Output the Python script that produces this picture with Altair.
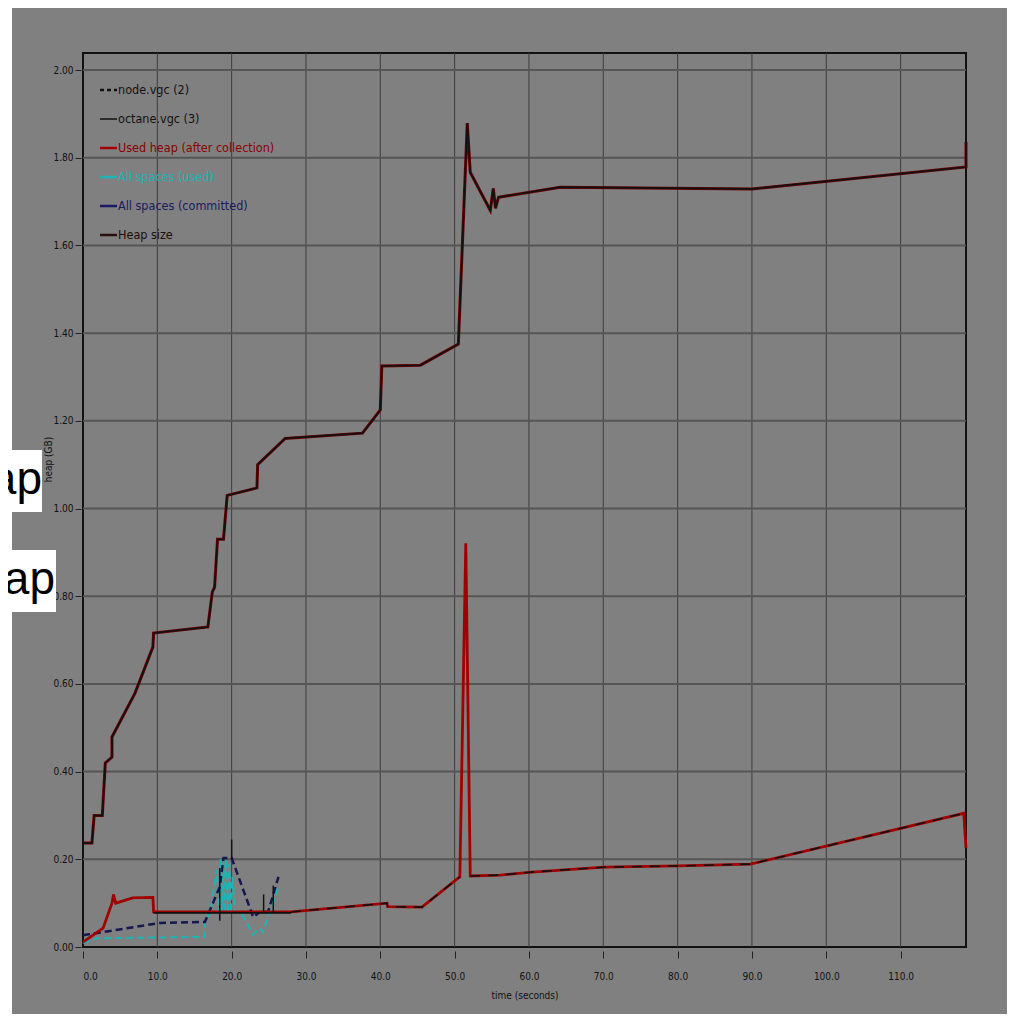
import altair as alt
import pandas as pd

# ---------------- data ----------------
# octane.vgc (3) - Heap size (upper staircase)
heap_t = [0, 1.2, 1.5, 2.6, 3.0, 3.9, 3.9, 7.0, 9.4, 9.5, 16.8, 17.4, 17.7, 18.1, 18.9, 19.4,
          23.4, 23.5, 27.2, 37.6, 40.0, 40.2, 45.4, 50.5, 51.7, 52.1, 54.8, 55.2, 55.5, 55.9,
          64.2, 90.0, 118.8, 118.8]
heap_v = [0.237, 0.237, 0.30, 0.30, 0.42, 0.433, 0.479, 0.579, 0.684, 0.716, 0.730, 0.81, 0.82,
          0.93, 0.93, 1.03, 1.047, 1.10, 1.16, 1.172, 1.225, 1.325, 1.327, 1.375, 1.879, 1.767,
          1.68, 1.73, 1.685, 1.71, 1.733, 1.729, 1.779, 1.836]

# octane.vgc (3) - Used heap (after collection)
used_t = [0, 2.7, 3.9, 4.1, 4.4, 6.7, 9.4, 9.5, 28.0, 40.9, 41.0, 45.6, 50.7, 51.5, 52.1,
          56.1, 60.4, 70.1, 80.0, 89.8, 118.5, 118.8]
used_v = [0.011, 0.043, 0.10, 0.12, 0.10, 0.112, 0.113, 0.080, 0.080, 0.100, 0.092, 0.091,
          0.16, 0.921, 0.162, 0.164, 0.171, 0.182, 0.185, 0.189, 0.305, 0.226]

# black core drawn over the used-heap line
core_t = [9.5, 28.0]
core_v = [0.078, 0.078]
core2_t = [28.0, 40.9, 41.0, 45.6, 50.7]
core2_v = [0.080, 0.100, 0.092, 0.091, 0.16]
core3_t = [52.1, 56.1, 60.4, 70.1, 80.0, 89.8, 118.5]
core3_v = [0.162, 0.164, 0.171, 0.182, 0.185, 0.189, 0.305]

# node.vgc (2) - All spaces (committed)
comm_t = [0, 2.7, 10.4, 16.4, 18.4, 18.9, 20.0, 22.9, 23.8, 24.9, 26.3]
comm_v = [0.027, 0.034, 0.055, 0.057, 0.137, 0.203, 0.203, 0.068, 0.080, 0.080, 0.160]

# node.vgc (2) - All spaces (used)
sp_t = [0, 1.9, 16.4, 16.4, 17.1, 18.0, 18.3, 18.5, 18.7, 18.9, 19.1, 19.3, 19.5, 19.7, 19.9,
        20.1, 20.5, 21.3, 22.9, 23.8, 24.2, 24.6, 26.3]
sp_v = [0.009, 0.020, 0.023, 0.057, 0.078, 0.176, 0.080, 0.200, 0.075, 0.200, 0.078, 0.200,
        0.075, 0.190, 0.078, 0.160, 0.078, 0.078, 0.028, 0.043, 0.034, 0.055, 0.137]

# short solid spikes
spk_t = [18.4, 20.0, 24.3, 25.6]
spk_lo = [0.06, 0.20, 0.08, 0.08]
spk_hi = [0.18, 0.245, 0.12, 0.14]

x_ticks = [0, 10, 20, 30, 40, 50, 60, 70, 80, 90, 100, 110]
y_ticks = [0.0, 0.2, 0.4, 0.6, 0.8, 1.0, 1.2, 1.4, 1.6, 1.8, 2.0]

legend_labels = ["node.vgc (2)", "octane.vgc (3)", "Used heap (after collection)",
                 "All spaces (used)", "All spaces (committed)", "Heap size"]
legend_text_colors = ["#111111", "#111111", "#8b0000", "#1cb4b4", "#1a1a5e", "#1a0d0d"]
legend_line_colors = ["#111111", "#111111", "#a00000", "#1cb4b4", "#1a1a66", "#2b0f0f"]

FONT = "DejaVu Sans Condensed"

# ---------------- chart ----------------
def frame(t, v):
    return pd.DataFrame({"t": t, "v": v, "i": list(range(len(t)))})

xaxis = alt.Axis(values=x_ticks, format=".1f", grid=False, domain=False, tickSize=7, offset=4,
                 tickColor="#222", labelPadding=13, labelFont=FONT, labelFontSize=10,
                 labelColor="#111", title="time (seconds)", titleFont=FONT, titleFontSize=10,
                 titleFontWeight="normal", titleColor="#111", titleY=44, titleBaseline="middle")
yaxis = alt.Axis(values=y_ticks, format=".2f", grid=False, domain=False, tickSize=6, offset=2,
                 tickColor="#222", labelPadding=2, labelFont=FONT, labelFontSize=10,
                 labelColor="#111", title="heap (GB)", titleFont=FONT, titleFontSize=10,
                 titleFontWeight="normal", titleColor="#111", titleAngle=-90, titleX=-33,
                 titleY=406, titleBaseline="middle", titleAlign="center")

X = alt.X("t:Q", scale=alt.Scale(domain=[0, 118.8], nice=False, zero=False), axis=xaxis)
Y = alt.Y("v:Q", scale=alt.Scale(domain=[0, 2.039], nice=False), axis=yaxis)

vgrid = alt.Chart(pd.DataFrame({"t": x_ticks[1:]})).mark_rule(
    color="#3c3c3c", strokeWidth=1).encode(x=X)
hgrid = alt.Chart(pd.DataFrame({"v": y_ticks[1:]})).mark_rule(
    color="#555555", strokeWidth=2).encode(y=Y)


def line(t, v, color, width, dash=None):
    kw = dict(color=color, strokeWidth=width)
    if dash:
        kw["strokeDash"] = dash
    return alt.Chart(frame(t, v)).mark_line(**kw).encode(x=X, y=Y, order="i:Q")


layers = [vgrid, hgrid,
          line(sp_t, sp_v, "#1cb4b4", 2, [7, 4]),
          line(comm_t, comm_v, "#161650", 2.5, [7, 4]),
          line(used_t, used_v, "#a00000", 2.8),
          line(core_t, core_v, "#111111", 1.8),
          line(core2_t, core2_v, "#111111", 1.6, [10, 8]),
          line(core3_t, core3_v, "#111111", 1.6, [10, 8]),
          line(heap_t, heap_v, "#700000", 3),
          line(heap_t, heap_v, "#111111", 1.6),
          alt.Chart(pd.DataFrame({"t": spk_t, "v": spk_lo, "v2": spk_hi})).mark_rule(
              color="#111111", strokeWidth=1.5).encode(x=X, y=Y, y2="v2:Q")]

# legend (inside the plot, top-left)
dummy = pd.DataFrame({"a": [0]})
for k, lab in enumerate(legend_labels):
    ypx = 37 + 29 * k
    kw = dict(color=legend_line_colors[k], strokeWidth=2.5 if k != 1 else 1.5)
    if k == 0:
        kw["strokeDash"] = [4, 3]
    layers.append(alt.Chart(dummy).mark_rule(**kw).encode(
        x=alt.value(17), x2=alt.value(34), y=alt.value(ypx)))
    layers.append(alt.Chart(dummy).mark_text(
        text=lab, align="left", baseline="middle", font=FONT, fontSize=12.5,
        color=legend_text_colors[k]).encode(x=alt.value(35), y=alt.value(ypx)))

# surrounding slide pieces: white strip on the left and the clipped "ap" words
AP_FONT = "Liberation Sans"
layers.append(alt.Chart(dummy).mark_rect(color="white").encode(
    x=alt.value(-80), x2=alt.value(-71), y=alt.value(-50), y2=alt.value(970)))
layers.append(alt.Chart(dummy).mark_rect(color="white").encode(
    x=alt.value(-80), x2=alt.value(-41), y=alt.value(397), y2=alt.value(459)))
layers.append(alt.Chart(dummy).mark_rect(color="white").encode(
    x=alt.value(-80), x2=alt.value(-27), y=alt.value(497), y2=alt.value(559)))
layers.append(alt.Chart(dummy).mark_text(
    text="ap", align="right", baseline="alphabetic", font=AP_FONT, fontSize=46,
    color="black").encode(x=alt.value(-41), y=alt.value(441)))
layers.append(alt.Chart(dummy).mark_text(
    text="ap", align="right", baseline="alphabetic", font=AP_FONT, fontSize=46,
    color="black").encode(x=alt.value(-28), y=alt.value(541)))

chart = alt.layer(*layers).properties(
    width=883, height=894,
    padding={"left": 75, "top": 45, "right": 41, "bottom": 67},
    autosize=alt.AutoSizeParams(type="none"),
    background="#808080",
).configure_view(stroke="#111111", strokeWidth=2)

chart.save("out.html", embed_options={"renderer": "svg", "actions": False})
